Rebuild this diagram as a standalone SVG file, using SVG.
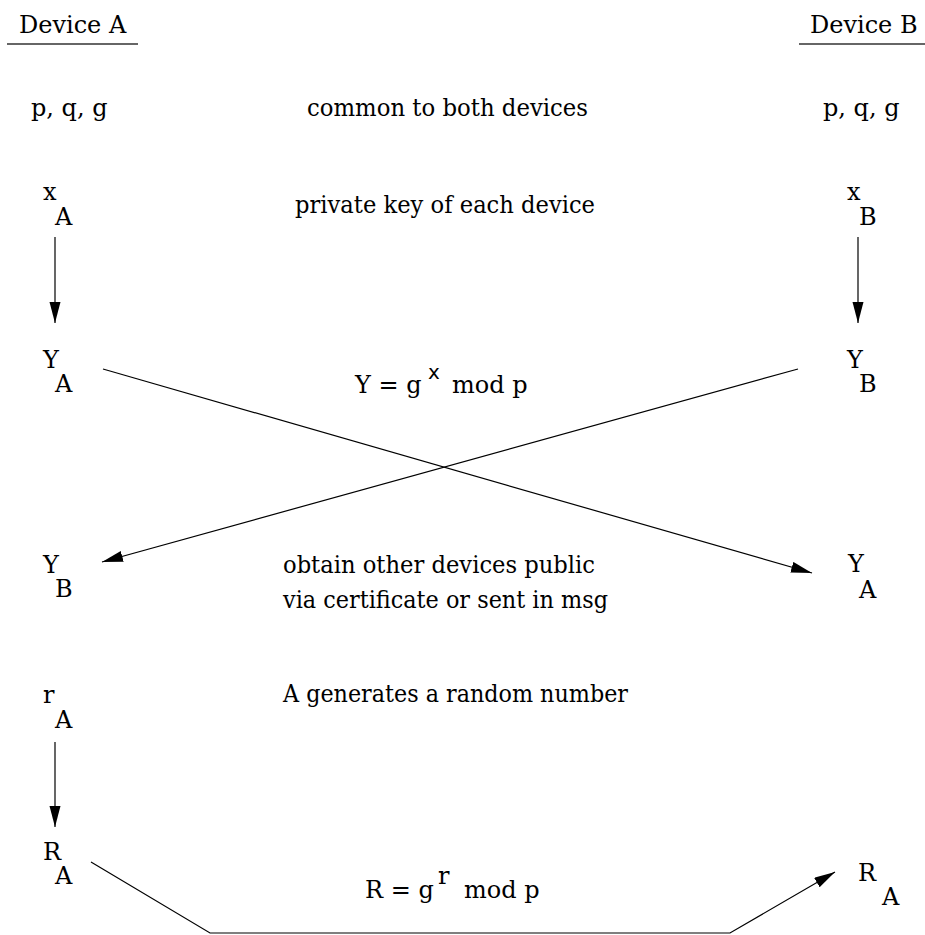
<svg xmlns="http://www.w3.org/2000/svg" width="925" height="935" viewBox="0 0 925 935">
<style>
text{font-family:'DejaVu Serif', serif;font-size:24px;fill:#000}
text.sup{font-family:'DejaVu Sans', sans-serif;font-size:20px}
.ln{stroke:#000;stroke-width:1.2;fill:none}
.ul{stroke:#333;stroke-width:1.6}
</style>
<defs>
<marker id="ah" markerUnits="userSpaceOnUse" markerWidth="22" markerHeight="12" refX="21" refY="5.5" orient="auto">
<path d="M0,0 L21,5.5 L0,11 z" fill="#000"/>
</marker>
</defs>
<rect width="925" height="935" fill="#fff"/>
<g id="deviceA"><text x="19" y="33">Device A</text><line class="ul" x1="7" y1="44" x2="138" y2="44"/></g>
<g id="deviceB"><text x="810" y="33">Device B</text><line class="ul" x1="799" y1="44" x2="925" y2="44"/></g>
<g id="pqgA"><text x="31" y="116">p, q, g</text></g>
<g id="common"><text x="307" y="116" textLength="281" lengthAdjust="spacingAndGlyphs">common to both devices</text></g>
<g id="pqgB"><text x="823" y="116">p, q, g</text></g>
<g id="xA"><text x="43" y="200">x</text><text x="55" y="225">A</text></g>
<g id="privkey"><text x="295" y="213" textLength="300" lengthAdjust="spacingAndGlyphs">private key of each device</text></g>
<g id="xB"><text x="847" y="200">x</text><text x="859" y="225">B</text></g>
<g id="YA"><text x="43" y="368">Y</text><text x="55" y="392">A</text></g>
<g id="formulaY"><text x="355" y="393">Y = g</text><text class="sup" x="428" y="379">x</text><text x="452" y="393">mod p</text></g>
<g id="YB"><text x="847" y="368">Y</text><text x="859" y="392">B</text></g>
<g id="YB2"><text x="43" y="573">Y</text><text x="55" y="597">B</text></g>
<g id="obtain"><text x="283" y="573" textLength="312" lengthAdjust="spacingAndGlyphs">obtain other devices public</text><text x="283" y="608" textLength="325" lengthAdjust="spacingAndGlyphs">via certificate or sent in msg</text></g>
<g id="YA2"><text x="848" y="572">Y</text><text x="859" y="598">A</text></g>
<g id="rA"><text x="43" y="703">r</text><text x="55" y="728">A</text></g>
<g id="gen"><text x="283" y="702" textLength="345" lengthAdjust="spacingAndGlyphs">A generates a random number</text></g>
<g id="RA"><text x="43" y="860">R</text><text x="55" y="884">A</text></g>
<g id="formulaR"><text x="365" y="898">R = g</text><text x="438" y="884">r</text><text x="464" y="898">mod p</text></g>
<g id="RA2"><text x="858" y="881">R</text><text x="882" y="905">A</text></g>
<g id="connectors">
<line class="ln" x1="55" y1="237" x2="55" y2="323" marker-end="url(#ah)"/>
<line class="ln" x1="858" y1="237" x2="858" y2="323" marker-end="url(#ah)"/>
<line class="ln" x1="103" y1="369" x2="812" y2="573" marker-end="url(#ah)"/>
<line class="ln" x1="798" y1="369" x2="102" y2="562" marker-end="url(#ah)"/>
<line class="ln" x1="55" y1="742" x2="55" y2="827" marker-end="url(#ah)"/>
<polyline class="ln" points="91,862 210,933 730,933 835,872" marker-end="url(#ah)"/>
</g>
</svg>
